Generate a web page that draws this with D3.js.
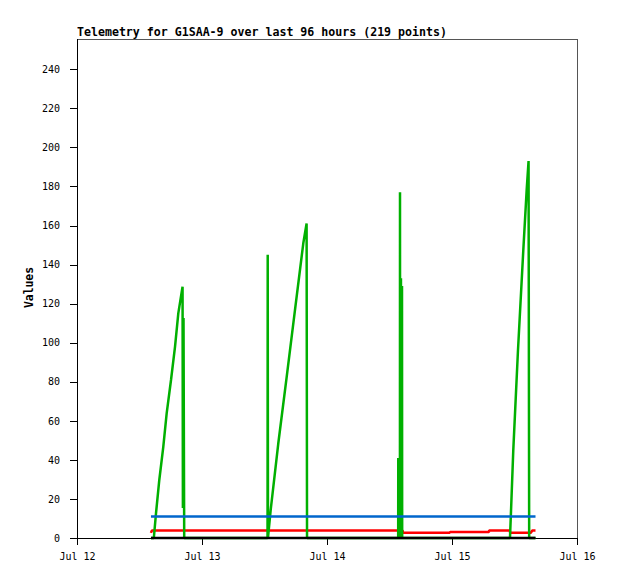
<!DOCTYPE html>
<html>
<head>
<meta charset="utf-8">
<script src="https://cdn.jsdelivr.net/npm/d3@7"></script>
<style>
  body { margin: 0; background: #fff; }
  text { font-family: "DejaVu Sans Mono", "Liberation Mono", monospace; }
</style>
</head>
<body>
<div id="chart"></div>
<script>
// data (UTC)
const titleText = "Telemetry for G1SAA-9 over last 96 hours (219 points)";
const xTickDates = ["2023-07-12 00:00", "2023-07-13 00:00", "2023-07-14 00:00", "2023-07-15 00:00", "2023-07-16 00:00"];
const xTickLabels = ["Jul 12", "Jul 13", "Jul 14", "Jul 15", "Jul 16"];
const yTicks = [0, 20, 40, 60, 80, 100, 120, 140, 160, 180, 200, 220, 240];

// green series (sawtooth)
const greenTimes = [
  "2023-07-12 14:12", "2023-07-12 14:45", "2023-07-12 15:10", "2023-07-12 15:48", "2023-07-12 16:34",
  "2023-07-12 17:13", "2023-07-12 18:03", "2023-07-12 18:49", "2023-07-12 19:27", "2023-07-12 20:16",
  "2023-07-12 20:20", "2023-07-12 20:27", "2023-07-12 20:35",
  "2023-07-13 12:35", "2023-07-13 12:37", "2023-07-13 12:40", "2023-07-13 13:11", "2023-07-13 14:39",
  "2023-07-13 16:16", "2023-07-13 17:51", "2023-07-13 19:27", "2023-07-13 20:05", "2023-07-13 20:10",
  "2023-07-14 13:40", "2023-07-14 13:41", "2023-07-14 13:42", "2023-07-14 14:00", "2023-07-14 14:01", "2023-07-14 14:02",
  "2023-07-14 14:11", "2023-07-14 14:12", "2023-07-14 14:13", "2023-07-14 14:23", "2023-07-14 14:24", "2023-07-14 14:26",
  "2023-07-15 11:08", "2023-07-15 11:20", "2023-07-15 11:46", "2023-07-15 12:40", "2023-07-15 13:41",
  "2023-07-15 14:20", "2023-07-15 14:42", "2023-07-15 14:49", "2023-07-15 16:02"
];
const greenValues = [
  0, 0, 12.6, 29.7, 46.7,
  63.8, 80.9, 97.9, 115, 128.7,
  15.4, 112.6, 0,
  0, 145, 0, 14.3, 48.5,
  82.6, 116.7, 150.9, 161, 0,
  0, 41, 0, 0, 177, 0,
  0, 133, 0, 0, 129, 0,
  0, 14, 45, 96, 147,
  178, 193, 0, 0
];

// red series
const redTimes = [
  "2023-07-12 14:12", "2023-07-12 14:22", "2023-07-14 14:32", "2023-07-14 14:34",
  "2023-07-14 23:35", "2023-07-14 23:38", "2023-07-15 07:05", "2023-07-15 07:08",
  "2023-07-15 11:06", "2023-07-15 11:10", "2023-07-15 15:08", "2023-07-15 15:25", "2023-07-15 16:02"
];
const redValues = [2.6, 3.8, 3.8, 2.7, 2.7, 3.1, 3.1, 3.8, 3.8, 2.7, 2.7, 3.8, 3.8];

// blue series
const blueTimes = ["2023-07-12 14:12", "2023-07-15 16:02"];
const blueValues = [11, 11];

// black series
const blackTimes = ["2023-07-12 14:12", "2023-07-15 16:02"];
const blackValues = [0, 0];

const svgWidth = 618;
const svgHeight = 579;
const margin = { top: 39, right: 41, bottom: 41, left: 77 };
const width = svgWidth - margin.left - margin.right;
const height = svgHeight - margin.top - margin.bottom;

const parse = d3.utcParse("%Y-%m-%d %H:%M");

const XScale = d3.scaleUtc([parse(xTickDates[0]), parse(xTickDates[4])], [0, width]);
const YScale = d3.scaleLinear([0, 255.5], [height, 0]);

const svg = d3.select("#chart")
  .append("svg")
  .attr("width", svgWidth)
  .attr("height", svgHeight)
  .append("g")
  .attr("transform", `translate(${margin.left},${margin.top})`);

// frame top/right (grey)
svg.append("path")
  .attr("d", `M0.5,0.5H${width + 0.5}V${height}`)
  .attr("fill", "none")
  .attr("stroke", "#555")
  .attr("shape-rendering", "crispEdges");

// title
svg.append("text")
  .attr("x", 0)
  .attr("y", -3.5)
  .style("font-size", "11.6px")
  .style("font-weight", "bold")
  .style("fill", "#000")
  .text(titleText);

// y label
svg.append("text")
  .attr("transform", "rotate(-90)")
  .attr("x", -(287.5 - margin.top))
  .attr("y", 33 - margin.left)
  .attr("text-anchor", "middle")
  .style("font-size", "11.4px")
  .style("font-weight", "bold")
  .text("Values");

// axes
const XAxis = d3.axisBottom(XScale)
  .tickValues(xTickDates.map(parse))
  .tickFormat((d, i) => xTickLabels[i])
  .tickSize(7)
  .tickSizeOuter(0)
  .tickPadding(8);

const YAxis = d3.axisLeft(YScale)
  .tickValues(yTicks)
  .tickSize(7)
  .tickSizeOuter(0)
  .tickPadding(10);

const gx = svg.append("g")
  .attr("transform", `translate(0,${height})`)
  .call(XAxis);
const gy = svg.append("g").call(YAxis);

// y axis line runs to the top of the frame
gy.select(".domain").attr("d", `M0.5,0V${height}`);

[gx, gy].forEach(g => {
  g.selectAll("path, line").attr("stroke", "#000").attr("shape-rendering", "crispEdges");
  g.selectAll("text")
    .style("font-family", "'DejaVu Sans Mono', monospace")
    .style("font-size", "10px")
    .style("fill", "#000");
});

// series lines
const line = d3.line()
  .x(d => XScale(d.t))
  .y(d => YScale(d.v));

function series(times, values) {
  return times.map((t, i) => ({ t: parse(t), v: values[i] }));
}

const plotOrder = [
  { times: redTimes, values: redValues, color: "#ff0000" },
  { times: greenTimes, values: greenValues, color: "#00b000" },
  { times: blueTimes, values: blueValues, color: "#0066cc" },
  { times: blackTimes, values: blackValues, color: "#000000" }
];

plotOrder.forEach(s => {
  svg.append("path")
    .datum(series(s.times, s.values))
    .attr("d", line)
    .attr("fill", "none")
    .attr("stroke", s.color)
    .attr("stroke-width", 2.5)
    .attr("stroke-linejoin", "miter")
    .attr("stroke-miterlimit", 1);
});
</script>
</body>
</html>
